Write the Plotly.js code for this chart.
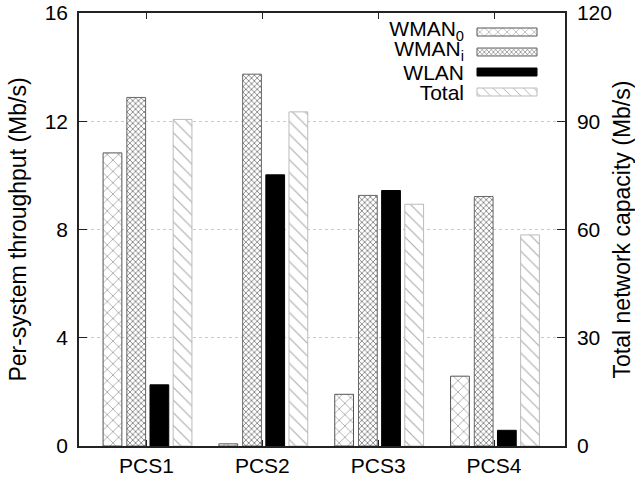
<!DOCTYPE html>
<html><head><meta charset="utf-8">
<script src="https://cdn.plot.ly/plotly-3.0.1.min.js"></script>
<style>html,body{margin:0;padding:0;background:#fff}#chart{width:635px;height:481px}</style>
</head><body><div id="chart"></div>
<script>
const categories = ['PCS1', 'PCS2', 'PCS3', 'PCS4'];
const seriesNames = ['WMAN<sub>0</sub>', 'WMAN<sub>i</sub>', 'WLAN', 'Total'];
const wman0 = [10.83, 0.08, 1.91, 2.58];
const wmani = [12.88, 13.74, 9.26, 9.22];
const wlan = [2.26, 10.02, 9.44, 0.58];
const totalCapacity = [90.5, 92.6, 67.0, 58.5];
const leftTicks = [0, 4, 8, 12, 16];
const rightTicks = [0, 30, 60, 90, 120];

const FONT = 'Liberation Sans, Arial, Helvetica, sans-serif';
const BW = 0.162;

const data = [
  {type: 'bar', name: seriesNames[0], x: categories, y: wman0, width: BW, offset: -0.375,
   marker: {color: '#fff', line: {color: '#555', width: 1},
            pattern: {shape: 'x', fgcolor: '#666', bgcolor: '#fff', size: 8, solidity: 0.12}}},
  {type: 'bar', name: seriesNames[1], x: categories, y: wmani, width: BW, offset: -0.17,
   marker: {color: '#fff', line: {color: '#666', width: 1},
            pattern: {shape: 'x', fgcolor: '#555', bgcolor: '#fff', size: 4, solidity: 0.3}}},
  {type: 'bar', name: seriesNames[2], x: categories, y: wlan, width: BW, offset: 0.03,
   marker: {color: '#000', line: {color: '#000', width: 1}}},
  {type: 'bar', name: seriesNames[3], x: categories, y: totalCapacity, yaxis: 'y2', width: BW, offset: 0.23,
   marker: {color: '#fff', line: {color: '#bbb', width: 1},
            pattern: {shape: '\\', fgcolor: '#aaa', bgcolor: '#fff', size: 9, solidity: 0.12}}}
];

const axisCommon = {
  showline: true, linecolor: '#222', linewidth: 1.5, ticks: 'inside', ticklen: 8,
  tickcolor: '#222', tickwidth: 1, zeroline: false, tickfont: {size: 21, color: '#000'}
};

const layout = {
  width: 635, height: 481,
  margin: {l: 79, r: 70, t: 13, b: 35},
  paper_bgcolor: '#fff', plot_bgcolor: '#fff',
  font: {family: FONT, size: 20, color: '#000'},
  barmode: 'overlay',
  showlegend: true,
  legend: {x: 0.62, y: 1, xanchor: 'left', yanchor: 'top', bgcolor: 'rgba(0,0,0,0)',
           borderwidth: 0, font: {size: 21, color: '#000'}, traceorder: 'normal'},
  xaxis: Object.assign({}, axisCommon, {type: 'category', range: [-0.583, 3.613],
          mirror: 'ticks', showgrid: false, ticklen: 6}),
  yaxis: Object.assign({}, axisCommon, {range: [0, 16], tickvals: leftTicks,
          showgrid: true, gridcolor: '#c8c8c8', griddash: 'dot', gridwidth: 1,
          ticklabelstandoff: 5,
          title: {text: 'Per-system throughput (Mb/s)', font: {size: 23}, standoff: 12}}),
  yaxis2: Object.assign({}, axisCommon, {overlaying: 'y', side: 'right', range: [0, 120],
          tickvals: rightTicks, showgrid: false, ticklabelstandoff: 6,
          title: {text: 'Total network capacity (Mb/s)', font: {size: 23}, standoff: 10}})
};

function parseTranslate(el) {
  const m = /translate\(\s*([-\d.eE]+)[\s,]*([-\d.eE]*)\s*\)/.exec((el.getAttribute && el.getAttribute('transform')) || '');
  return m ? [parseFloat(m[1]), m[2] ? parseFloat(m[2]) : 0] : [0, 0];
}
function originOf(el) {
  let x = 0, y = 0, n = el;
  while (n && n.tagName && n.tagName.toLowerCase() !== 'svg') {
    const t = parseTranslate(n);
    x += t[0]; y += t[1];
    n = n.parentNode;
  }
  return [x, y];
}

// Legend as in the reference: right-aligned text, wide swatch to its right
function fixLegend(gd) {
  const sb = gd.querySelector('.legend .scrollbox');
  if (sb) sb.removeAttribute('clip-path');
  const legendEl = gd.querySelector('.legend');
  if (legendEl) legendEl.removeAttribute('clip-path');
  const items = gd.querySelectorAll('.legend .traces');
  items.forEach(function (t, i) {
    const parentO = originOf(t.parentNode);
    const tt = parseTranslate(t);
    const targetY = 32 + 20 * i;
    t.setAttribute('transform', 'translate(' + tt[0] + ',' + (targetY - parentO[1]) + ')');
    const originX = parentO[0] + tt[0];
    const p = t.querySelector('path.legendundefined') || t.querySelector('.legendsymbols path');
    if (p) {
      p.setAttribute('d', 'M30,4H-30V-4H30Z');
      p.setAttribute('transform', 'translate(' + (507 - originX) + ',0)');
    }
    const txt = t.querySelector('text.legendtext');
    if (txt) {
      txt.setAttribute('text-anchor', 'end');
      txt.setAttribute('x', 464 - originX);
      txt.querySelectorAll('tspan[x]').forEach(function (ts) { ts.setAttribute('x', 464 - originX); });
      if (/<sub>/.test(seriesNames[i] || '')) txt.setAttribute('transform', 'translate(0,-4)');
    }
  });
}

Plotly.newPlot('chart', data, layout, {displayModeBar: false}).then(function (gd) {
  fixLegend(gd);
});
</script>
</body></html>
